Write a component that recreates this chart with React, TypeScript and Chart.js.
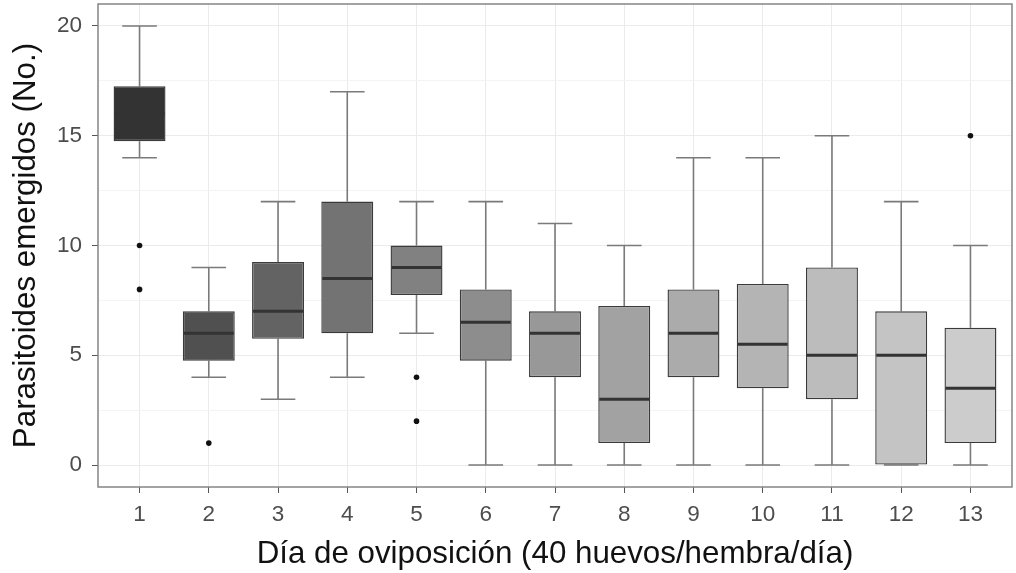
import React, { useEffect, useRef } from "react";
import { Chart, registerables } from "chart.js";

Chart.register(...registerables);

const days = ["1", "2", "3", "4", "5", "6", "7", "8", "9", "10", "11", "12", "13"];
const dayPositions = [1, 2, 3, 4, 5, 6, 7, 8, 9, 10, 11, 12, 13];
const whiskerLow = [14, 4, 3, 4, 6, 0, 0, 0, 0, 0, 0, 0, 0];
const q1 = [14.75, 4.75, 5.75, 6, 7.75, 4.75, 4, 1, 4, 3.5, 3, 0, 1];
const median = [16, 6, 7, 8.5, 9, 6.5, 6, 3, 6, 5.5, 5, 5, 3.5];
const q3 = [17.25, 7, 9.25, 12, 10, 8, 7, 7.25, 8, 8.25, 9, 7, 6.25];
const whiskerHigh = [20, 9, 12, 17, 12, 12, 11, 10, 14, 14, 15, 12, 10];
const outlierDay = [1, 1, 2, 5, 5, 13];
const outlierValue = [10, 8, 1, 4, 2, 15];
const yMajorTicks = [0, 5, 10, 15, 20];
const yMinorTicks = [2.5, 7.5, 12.5, 17.5];
const boxFills = ["#333333", "#505050", "#636363", "#737373", "#818181", "#8d8d8d", "#989898", "#a2a2a2", "#ababab", "#b4b4b4", "#bcbcbc", "#c4c4c4", "#cccccc"];

const FONT = "'Liberation Sans', Arial, sans-serif";

const boxPlotPlugin = {
  id: "boxPlotExtras",
  beforeDatasetsDraw(chart: any) {
    const { ctx, scales } = chart;
    const x = scales.x;
    const y = scales.y;
    const capHalf = (x.getPixelForValue(1.25) - x.getPixelForValue(1));
    ctx.save();
    ctx.strokeStyle = "#7a7a7a";
    ctx.lineWidth = 1.6;
    for (let i = 0; i < dayPositions.length; i++) {
      const px = x.getPixelForValue(dayPositions[i]);
      const lo = y.getPixelForValue(whiskerLow[i]);
      const hi = y.getPixelForValue(whiskerHigh[i]);
      const b1 = y.getPixelForValue(q1[i]);
      const b3 = y.getPixelForValue(q3[i]);
      ctx.beginPath();
      ctx.moveTo(px, hi);
      ctx.lineTo(px, b3);
      ctx.moveTo(px, b1);
      ctx.lineTo(px, lo);
      ctx.moveTo(px - capHalf, hi);
      ctx.lineTo(px + capHalf, hi);
      ctx.moveTo(px - capHalf, lo);
      ctx.lineTo(px + capHalf, lo);
      ctx.stroke();
    }
    ctx.restore();
  },
  afterDatasetsDraw(chart: any) {
    const { ctx, scales, chartArea } = chart;
    const x = scales.x;
    const y = scales.y;
    const half = (x.getPixelForValue(1.375) - x.getPixelForValue(1));
    ctx.save();
    ctx.strokeStyle = "#333333";
    ctx.lineWidth = 3;
    for (let i = 0; i < dayPositions.length; i++) {
      const px = x.getPixelForValue(dayPositions[i]);
      const m = y.getPixelForValue(median[i]);
      ctx.beginPath();
      ctx.moveTo(px - half + 1, m);
      ctx.lineTo(px + half - 1, m);
      ctx.stroke();
    }
    ctx.strokeStyle = "#858585";
    ctx.lineWidth = 1.5;
    ctx.strokeRect(chartArea.left, chartArea.top, chartArea.right - chartArea.left, chartArea.bottom - chartArea.top);
    ctx.restore();
  },
};

export default function App() {
  const canvasRef = useRef<HTMLCanvasElement | null>(null);

  useEffect(() => {
    document.body.style.margin = "0";
    const canvas = canvasRef.current;
    if (!canvas) return;
    const chart = new Chart(canvas, {
      type: "bar",
      data: {
        labels: days,
        datasets: [
          {
            type: "bar",
            label: "box",
            data: dayPositions.map((d, i) => ({ x: d, y: [q1[i], q3[i]] })) as any,
            backgroundColor: boxFills,
            borderColor: "#3a3a3a",
            borderWidth: 1.4,
            borderSkipped: false,
            categoryPercentage: 1,
            barPercentage: 0.75,
          } as any,
          {
            type: "scatter",
            label: "outliers",
            data: outlierDay.map((d, i) => ({ x: d, y: outlierValue[i] })),
            backgroundColor: "#111111",
            borderColor: "#111111",
            pointRadius: 2.8,
            borderWidth: 0,
          } as any,
        ],
      },
      options: {
        animation: false,
        responsive: true,
        maintainAspectRatio: false,
        layout: { padding: { top: 4, right: 1, left: 0, bottom: 0 } },
        plugins: {
          legend: { display: false },
          tooltip: { enabled: false },
        },
        scales: {
          x: {
            type: "linear",
            min: 0.4,
            max: 13.6,
            offset: false,
            afterBuildTicks: (scale: any) => {
              scale.ticks = dayPositions.map((v) => ({ value: v }));
            },
            afterFit: (scale: any) => {
              scale.height = 86;
              scale.paddingLeft = 0;
              scale.paddingRight = 0;
            },
            border: { display: false },
            grid: {
              offset: false,
              color: "#ebebeb",
              lineWidth: 1,
              tickLength: 6,
              tickColor: "#555555",
              drawOnChartArea: true,
            },
            ticks: {
              autoSkip: false,
              maxRotation: 0,
              padding: 8,
              color: "#4d4d4d",
              font: { family: FONT, size: 22.5 },
              callback: (v: any) => days[dayPositions.indexOf(Number(v))] ?? "",
            },
            title: {
              display: true,
              text: "Día de oviposición (40 huevos/hembra/día)",
              color: "#111111",
              font: { family: FONT, size: 31.3 },
              padding: { top: 0, bottom: 0 },
            },
          },
          y: {
            type: "linear",
            min: -1,
            max: 21,
            afterBuildTicks: (scale: any) => {
              const all = [...yMajorTicks, ...yMinorTicks].sort((a, b) => a - b);
              scale.ticks = all.map((v) => ({ value: v }));
            },
            afterFit: (scale: any) => {
              scale.width = 98;
              scale.paddingTop = 0;
              scale.paddingBottom = 0;
            },
            border: { display: false },
            grid: {
              color: (c: any) => (yMajorTicks.includes(c.tick?.value) ? "#ebebeb" : "#f4f4f4"),
              lineWidth: 1,
              tickLength: 6,
              tickColor: (c: any) => (yMajorTicks.includes(c.tick?.value) ? "#555555" : "rgba(0,0,0,0)"),
            },
            ticks: {
              padding: 10,
              color: "#4d4d4d",
              font: { family: FONT, size: 22.5 },
              callback: (v: any) => (yMajorTicks.includes(Number(v)) ? String(v) : ""),
            },
            title: {
              display: true,
              text: "Parasitoides emergidos (No.)",
              color: "#111111",
              font: { family: FONT, size: 31.3 },
              padding: { top: 8, bottom: 0 },
            },
          },
        },
      } as any,
      plugins: [boxPlotPlugin],
    });
    return () => chart.destroy();
  }, []);

  return (
    <div style={{ width: 1016, height: 573, position: "relative", background: "#ffffff" }}>
      <canvas ref={canvasRef} />
    </div>
  );
}
